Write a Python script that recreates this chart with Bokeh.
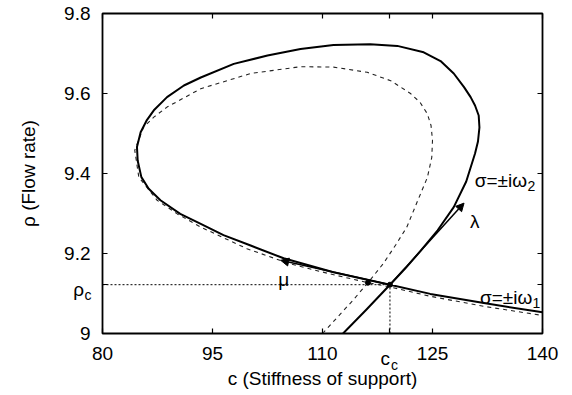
from bokeh.plotting import figure
from bokeh.models import LinearAxis, FixedTicker, Range1d, Label, Arrow, NormalHead
from bokeh.embed import file_html
from bokeh.resources import INLINE

# ---------------- data ----------------
x_ticks = [80, 95, 110, 119.2, 125, 140]
x_tick_labels = ["80", "95", "110", "", "125", "140"]
y_ticks = [9.0, 9.122, 9.2, 9.4, 9.6, 9.8]
y_tick_labels = ["9", "", "9.2", "9.4", "9.6", "9.8"]

c_c = 119.2
rho_c = 9.122

solid_c = [112.8, 116.0, 119.2, 121.3, 123.4, 125.7, 127.9, 129.6, 130.8, 131.2,
           131.4, 131.3, 130.8, 130.2, 129.3, 127.9, 126.1, 123.8, 120.2, 116.5, 111.5,
           107.0, 102.5, 97.9, 93.4, 91.1, 88.8, 87.0, 86.0, 85.2, 84.7,
           84.8, 85.3, 86.3, 87.9, 90.6, 93.4, 96.5, 100.2, 104.7, 111.5,
           119.2, 124.7, 132.0, 140.0]
solid_rho = [9.000, 9.060, 9.122, 9.163, 9.207, 9.258, 9.316, 9.380, 9.450, 9.480,
             9.515, 9.545, 9.570, 9.591, 9.616, 9.650, 9.681, 9.703, 9.719, 9.723, 9.721,
             9.711, 9.695, 9.674, 9.640, 9.620, 9.591, 9.558, 9.532, 9.503, 9.466,
             9.432, 9.391, 9.362, 9.333, 9.299, 9.274, 9.246, 9.220, 9.188, 9.153,
             9.122, 9.099, 9.076, 9.053]

dashed_c = [110.0, 112.0, 114.1, 116.2, 118.3, 120.0, 121.5, 123.0, 124.3, 124.9,
            125.0, 124.8, 124.3, 123.3, 122.0, 119.3, 116.1, 111.5, 107.0, 100.2,
            93.4, 88.8, 87.0, 85.6, 84.4, 84.95, 87.45, 90.2, 93.4, 99.7,
            105.6, 110.8, 116.2, 119.3, 124.7, 132.0, 140.0]
dashed_rho = [9.000, 9.040, 9.082, 9.127, 9.175, 9.222, 9.266, 9.333, 9.390, 9.440,
              9.483, 9.520, 9.549, 9.578, 9.600, 9.632, 9.653, 9.666, 9.667, 9.650,
              9.612, 9.566, 9.541, 9.516, 9.458, 9.391, 9.333, 9.299, 9.266, 9.212,
              9.174, 9.150, 9.127, 9.116, 9.093, 9.068, 9.045]

dot_c = [116.2, 119.2]
dot_rho = [9.127, 9.122]

mu_arrow = [119.2, 9.122, 104.3, 9.183]      # x_start, y_start, x_end, y_end
lambda_arrow = [119.2, 9.122, 129.3, 9.326]

FONT = "Liberation Sans"
FS = "19px"
SUB = "14px"

# canvas taller than the window: the extra bottom panel room (off-screen)
# holds the out-of-frame subscript labels so they are not clipped
p = figure(width=572, height=495, x_range=Range1d(80, 140), y_range=Range1d(9, 9.8),
           output_backend="svg", toolbar_location=None,
           min_border_left=102, min_border_right=30, min_border_top=13, min_border_bottom=162)
p.grid.visible = False
p.outline_line_color = "black"
p.outline_line_width = 1.8
p.background_fill_color = "white"
p.border_fill_color = "white"

xt = FixedTicker(ticks=x_ticks, minor_ticks=[])
yt = FixedTicker(ticks=y_ticks, minor_ticks=[])


def style(ax, ticker, overrides, show):
    ax.ticker = ticker
    ax.major_tick_in = 5
    ax.major_tick_out = 0
    ax.minor_tick_in = 0
    ax.minor_tick_out = 0
    ax.major_tick_line_color = "black"
    ax.major_tick_line_width = 1.2
    ax.axis_line_color = None
    ax.major_label_overrides = overrides
    if show:
        ax.major_label_text_font = FONT
        ax.major_label_text_font_size = FS
        ax.major_label_text_color = "black"
    else:
        ax.major_label_text_font_size = "1px"
        ax.major_label_text_color = None
        ax.major_label_standoff = 0


xo = {t: l for t, l in zip(x_ticks, x_tick_labels)}
yo = {t: l for t, l in zip(y_ticks, y_tick_labels)}

xa = p.xaxis[0]
style(xa, xt, xo, True)
xa.major_label_standoff = 13
xa.axis_label = "c (Stiffness of support)"
xa.axis_label_text_font = FONT
xa.axis_label_text_font_size = FS
xa.axis_label_text_font_style = "normal"
xa.axis_label_text_color = "black"
xa.axis_label_standoff = 5

ya = p.yaxis[0]
style(ya, yt, yo, True)
ya.major_label_standoff = 12
ya.axis_label = "ρ (Flow rate)"
ya.axis_label_text_font = FONT
ya.axis_label_text_font_size = FS
ya.axis_label_text_font_style = "normal"
ya.axis_label_text_color = "black"
ya.axis_label_standoff = 22

top = LinearAxis()
style(top, xt, {t: "" for t in x_ticks}, False)
p.add_layout(top, "above")
right = LinearAxis()
style(right, yt, {t: "" for t in y_ticks}, False)
p.add_layout(right, "right")

# reference dotted lines
p.line([x_ticks[0], c_c], [rho_c, rho_c], line_color="black", line_width=1, line_dash="2 2")
p.line([c_c, c_c], [y_ticks[0], rho_c], line_color="black", line_width=1, line_dash="2 2")

# curves
p.line(dashed_c, dashed_rho, line_color="#222222", line_width=1.1, line_dash="4 4")
p.line(solid_c, solid_rho, line_color="black", line_width=2, line_join="round")

p.scatter(dot_c, dot_rho, size=5, color="black")

for a in (mu_arrow, lambda_arrow):
    p.add_layout(Arrow(end=NormalHead(size=8, fill_color="black", line_color="black", line_width=1),
                       x_start=a[0], y_start=a[1], x_end=a[2], y_end=a[3],
                       line_color="black", line_width=1.5))


def lab(x, y, text, size=FS, align="left", xo=0, yo=0, place=None):
    l = Label(x=x, y=y, text=text, text_font=FONT, text_font_size=size,
              text_align=align, text_baseline="alphabetic",
              x_offset=xo, y_offset=yo, text_color="black")
    if place is None:
        p.add_layout(l)
    else:
        p.add_layout(l, place)


# tick labels with subscripts (outside the frame -> side panel, unclipped)
lab(c_c, 9.0, "c", align="right", yo=-25, place="below")
lab(c_c, 9.0, "c", size=SUB, align="left", xo=1, yo=-31, place="below")
lab(80, rho_c, "ρ", align="right", xo=-18.5, yo=-5, place="below")
lab(80, rho_c, "c", size=SUB, align="left", xo=-18, yo=-10, place="below")

# curve labels
lab(104.7, 9.134, "μ", align="center")
lab(130.75, 9.281, "λ", align="center")
lab(137.9, 9.3825, "σ=±iω", align="right")
lab(137.95, 9.37, "2", size=SUB, align="left")
lab(138.6, 9.091, "σ=±iω", align="right")
lab(138.65, 9.076, "1", size=SUB, align="left")

open("out.html", "w").write(file_html(p, INLINE))
